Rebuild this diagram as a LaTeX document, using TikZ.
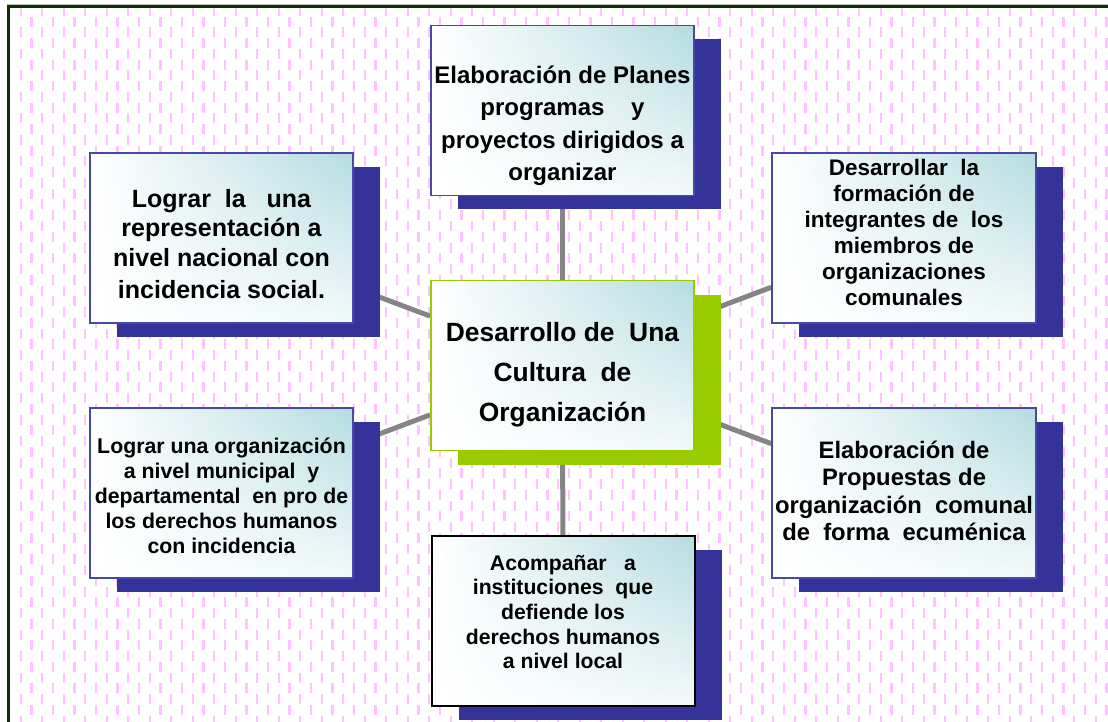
\documentclass[tikz,border=0pt]{standalone}
\usepackage{fontspec}
\setmainfont{Liberation Sans}
\usetikzlibrary{shadows,shadings,backgrounds}
\definecolor{sb}{HTML}{333399}
\definecolor{bd}{HTML}{4848A8}
\definecolor{gr}{HTML}{99CC00}
\definecolor{tealone}{HTML}{B4DCE0}
\definecolor{tealtwo}{HTML}{F2F9FA}
\definecolor{pk}{HTML}{FFC4FF}
\definecolor{fr}{HTML}{0B3300}
\definecolor{cn}{HTML}{858585}
\newcommand\mystrut{\rule{0pt}{1em}}
\tikzset{
  box/.style={rectangle, inner sep=0pt, minimum width=263pt, minimum height=170pt,
    upper left=white, upper right=tealone, lower left=white, lower right=tealtwo,
    draw=bd, line width=1.5pt,
    drop shadow={shadow xshift=27pt, shadow yshift=-14pt, fill=sb, opacity=1}},
  gbox/.style={box, draw=gr, line width=1.8pt,
    drop shadow={shadow xshift=27pt, shadow yshift=-14pt, fill=gr, opacity=1}},
  kbox/.style={box, draw=black, line width=2pt},
  txt/.style={inner sep=0pt, align=center, anchor=north},
  conn/.style={draw=cn, line width=5pt},
}
\begin{document}
\begin{tikzpicture}[x=1pt,y=-1pt]
\useasboundingbox (0,0) rectangle (1108,722);
% boxes
\node[box]  (top) at (562.5,110.5) {};
\node[box]  (lt)  at (221.5,238) {};
\node[box, minimum width=264pt]  (rt)  at (904,238) {};
\node[box]  (lb)  at (221.5,493) {};
\node[box, minimum width=264pt]  (rb)  at (904,493) {};
\node[kbox] (bot) at (563,621) {};
\node[gbox] (c)   at (562.5,365.5) {};
% texts
\node[txt, font=\bfseries\fontsize{24}{32.5}\selectfont] (toptxt) at (562.5,59)
  {\mystrut Elaboración de Planes\\programas\ \ \ \ y\\proyectos dirigidos a\\organizar};
\node[txt, font=\bfseries\fontsize{25}{29.5}\selectfont] (lttxt) at (221.5,182)
  {\mystrut Lograr\ \ la\ \ \ una\\representación a\\nivel nacional con\\[3pt]incidencia social.};
\node[txt, font=\bfseries\fontsize{22.5}{26}\selectfont] (rttxt) at (904,152.5)
  {\mystrut Desarrollar\ \ la\\formación de\\integrantes de\ \ los\\miembros de\\organizaciones\\comunales};
\node[txt, font=\bfseries\fontsize{21.3}{25}\selectfont] (lbtxt) at (221.5,432)
  {\mystrut Lograr una organización\\a nivel municipal\ \ y\\departamental\ \ en pro de\\los derechos humanos\\con incidencia};
\node[txt, font=\bfseries\fontsize{23.8}{27.3}\selectfont] (rbtxt) at (904,434.5)
  {\mystrut Elaboración de\\Propuestas de\\organización\ \ comunal\\de\ \ forma\ \ ecuménica};
\node[txt, font=\bfseries\fontsize{21.2}{24.6}\selectfont] (bottxt) at (563,548.8)
  {\mystrut Acompañar\ \ \ a\\instituciones\ \ que\\defiende los\\derechos humanos\\a nivel local};
\node[txt, font=\bfseries\fontsize{26.4}{40}\selectfont] (ctxt) at (562.5,315.3)
  {\mystrut Desarrollo de\ \ Una\\Cultura\ \ de\\Organización};
\begin{scope}[on background layer]
  % dotted background texture
  \begin{scope}
    \clip (10,8) rectangle (1108,722);
    \foreach \k in {0,...,51}{
      \draw[pk, line width=2.3pt, dash pattern=on 10pt off 11.5pt]
        ({20.7+21.5*\k},6) -- ({20.7+21.5*\k},730);
      \draw[pk, line width=2.3pt, dash pattern=on 10pt off 11.5pt]
        ({31.45+21.5*\k},16.75) -- ({31.45+21.5*\k},730);
    }
  \end{scope}
  % frame
  \draw[black!25, line width=0.8pt] (6.5,4.1) -- (1108,4.1);
  \draw[fr, line width=3.3pt] (8.3,740) -- (8.3,6.3) -- (1120,6.3);
  % connectors
  \draw[conn] (c) -- (top);
  \draw[conn] (c) -- (bot);
  \draw[conn] (c) -- (lt);
  \draw[conn] (c) -- (lb);
  \draw[conn] (c) -- (rt);
  \draw[conn] (c) -- (rb);
\end{scope}
\end{tikzpicture}
\end{document}
